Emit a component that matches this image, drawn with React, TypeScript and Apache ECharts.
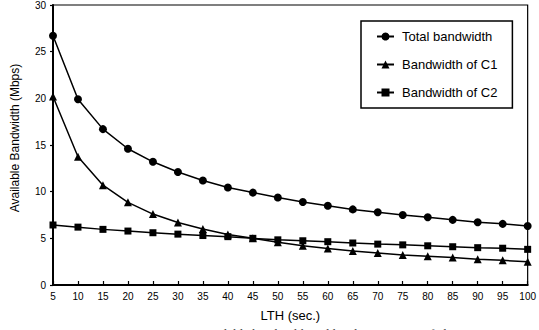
import React, { useEffect, useRef } from "react";
import * as echarts from "echarts";

const lth = [5, 10, 15, 20, 25, 30, 35, 40, 45, 50, 55, 60, 65, 70, 75, 80, 85, 90, 95, 100];
const totalBw = [26.7, 19.9, 16.7, 14.6, 13.2, 12.1, 11.2, 10.45, 9.9, 9.38, 8.9, 8.5, 8.1, 7.8, 7.5, 7.25, 6.98, 6.72, 6.55, 6.32];
const c1Bw = [20.2, 13.75, 10.7, 8.86, 7.6, 6.7, 6.0, 5.4, 5.0, 4.57, 4.2, 3.9, 3.64, 3.43, 3.22, 3.08, 2.94, 2.76, 2.64, 2.5];
const c2Bw = [6.43, 6.2, 5.96, 5.78, 5.6, 5.45, 5.3, 5.18, 5.0, 4.84, 4.74, 4.64, 4.5, 4.38, 4.3, 4.2, 4.1, 4.0, 3.94, 3.82];
const seriesNames = ["Total bandwidth", "Bandwidth of C1", "Bandwidth of C2"];
const yTicks = { min: 0, max: 30, interval: 5 };
const yTitle = "Available Bandwidth (Mbps)";
const xTitle = "LTH (sec.)";
const caption = "Figure 7  Available bandwidth and localization ratio of clients";

const FONT = "'Liberation Sans', Arial, sans-serif";

export default function App() {
  const ref = useRef<HTMLDivElement>(null);
  useEffect(() => {
    if (!ref.current) return;
    const chart = echarts.init(ref.current, null, { renderer: "svg" });
    const mk = (name: string, data: number[], symbol: string, size: number) => ({
      name,
      type: "line",
      data: lth.map((x, i) => [x, data[i]]),
      symbol,
      symbolSize: size,
      showAllSymbol: true,
      lineStyle: { color: "#000", width: 1.5 },
      itemStyle: { color: "#000" },
      z: 3,
    });
    chart.setOption({
      animation: false,
      backgroundColor: "#fff",
      textStyle: { fontFamily: FONT },
      grid: {
        left: 53,
        right: 7,
        top: 5,
        bottom: 45,
        show: true,
        borderColor: "#000",
        borderWidth: 1.2,
      },
      legend: {
        orient: "vertical",
        left: 361,
        top: 21,
        data: seriesNames,
        itemWidth: 17,
        itemHeight: 10,
        itemGap: 15,
        padding: [9, 15, 9, 15],
        borderColor: "#000",
        borderWidth: 1.5,
        backgroundColor: "#fff",
        textStyle: { fontSize: 13, color: "#000", fontFamily: FONT, padding: [0, 0, 0, 3] },
      },
      xAxis: {
        type: "value",
        min: 5,
        max: 100,
        interval: 5,
        name: xTitle,
        nameLocation: "middle",
        nameGap: 24,
        nameTextStyle: { fontSize: 13, color: "#000", fontFamily: FONT },
        axisLine: { lineStyle: { color: "#000", width: 2 } },
        axisTick: { inside: true, length: 4, lineStyle: { color: "#000", width: 1.2 } },
        axisLabel: { fontSize: 10, color: "#000", margin: 6, fontFamily: FONT },
        splitLine: { show: false },
      },
      yAxis: {
        type: "value",
        min: yTicks.min,
        max: yTicks.max,
        interval: yTicks.interval,
        axisLine: { show: true, lineStyle: { color: "#000", width: 2 } },
        axisTick: { show: true, length: 3, lineStyle: { color: "#000", width: 1.2 } },
        axisLabel: { fontSize: 10, color: "#000", margin: 7, fontFamily: FONT },
        splitLine: { show: false },
      },
      series: [
        mk(seriesNames[0], totalBw, "circle", 8),
        mk(seriesNames[1], c1Bw, "triangle", 8),
        mk(seriesNames[2], c2Bw, "rect", 7),
      ],
      graphic: [
        {
          type: "text",
          x: 15,
          y: 138,
          rotation: Math.PI / 2,
          style: {
            text: yTitle,
            fontSize: 12,
            fontFamily: FONT,
            fill: "#000",
            align: "center",
            verticalAlign: "middle",
          },
        },
        {
          type: "text",
          left: 150,
          top: 327,
          style: { text: caption, fontSize: 13, fontFamily: "'Liberation Serif', serif", fill: "#444" },
        },
      ],
    });
    return () => chart.dispose();
  }, []);
  return (
    <div
      ref={ref}
      style={{ position: "absolute", left: 0, top: 0, width: 539, height: 330, overflow: "hidden" }}
    />
  );
}
